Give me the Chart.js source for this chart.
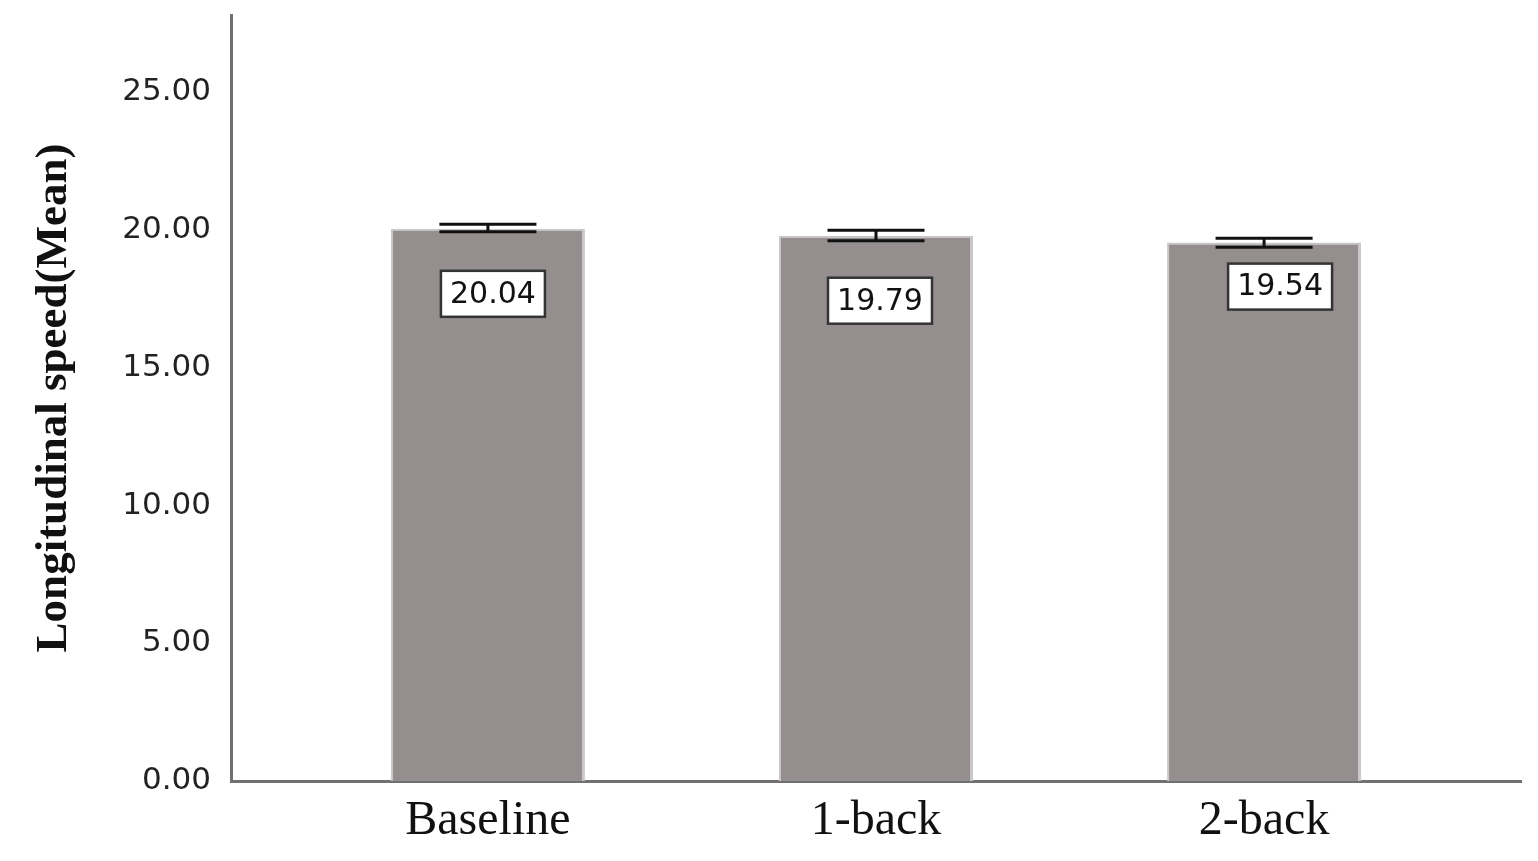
<!DOCTYPE html>
<html>
<head>
<meta charset="utf-8">
<script src="https://cdn.jsdelivr.net/npm/chart.js@4/dist/chart.umd.min.js"></script>
<style>
	html, body { margin: 0; padding: 0; background: #fff; }
	#wrap { width: 1538px; height: 861px; }
</style>
</head>
<body>
<div id="wrap"><canvas id="speedplot"></canvas></div>
<script>
// Data
const conditions = ['Baseline', '1-back', '2-back'];
const conditionPos = [1, 2, 3];
const meanSpeed = [20.04, 19.79, 19.54];
const ciLow = [19.93, 19.61, 19.37];
const ciHigh = [20.21, 19.99, 19.70];
const yTicks = [0, 5, 10, 15, 20, 25];

const barColor = '#948f8e';
const axisColor = '#707070';
// Label box shifts (px) relative to bar centre / bar top, as placed in the original
const labelShift = [[5, 65], [4, 65], [16, 44]];

// Error bars and boxed value labels
const overlayPlugin = {
	id: 'overlay',
	afterDatasetsDraw(chart) {
		const ctx = chart.ctx;
		const yScale = chart.scales.y;
		const meta = chart.getDatasetMeta(0);
		ctx.save();
		meta.data.forEach(function (bar, i) {
			const x = bar.x;
			const capHalf = bar.width / 4;
			const yHi = yScale.getPixelForValue(ciHigh[i]);
			const yLo = yScale.getPixelForValue(ciLow[i]);
			ctx.strokeStyle = '#111';
			ctx.lineWidth = 3;
			ctx.beginPath();
			ctx.moveTo(x - capHalf, yHi); ctx.lineTo(x + capHalf, yHi);
			ctx.moveTo(x - capHalf, yLo); ctx.lineTo(x + capHalf, yLo);
			ctx.moveTo(x, yHi); ctx.lineTo(x, yLo);
			ctx.stroke();

			// value label
			const cx = x + labelShift[i][0];
			const cy = bar.y + labelShift[i][1];
			const w = 104, h = 46;
			ctx.fillStyle = '#fff';
			ctx.fillRect(cx - w / 2, cy - h / 2, w, h);
			ctx.strokeStyle = '#333';
			ctx.lineWidth = 2.5;
			ctx.strokeRect(cx - w / 2, cy - h / 2, w, h);
			ctx.fillStyle = '#111';
			ctx.font = '30px "DejaVu Sans"';
			ctx.textAlign = 'center';
			ctx.textBaseline = 'middle';
			ctx.fillText(meanSpeed[i].toFixed(2), cx, cy + 1);
		});
		ctx.restore();
	}
};

var speedplot = new Chart('speedplot', {
	type: 'bar',
	data: {
		datasets: [{
			data: conditionPos.map((p, i) => ({ x: p, y: meanSpeed[i] })),
			backgroundColor: barColor,
			borderColor: '#c9c7c7',
			borderWidth: { left: 2, right: 3, top: 2, bottom: 0 },
			borderSkipped: 'bottom',
			barPercentage: 0.5,
			categoryPercentage: 1
		}]
	},
	options: {
		responsive: true,
		maintainAspectRatio: false,
		animation: false,
		layout: { padding: { top: 15, right: 17, left: 0, bottom: 0 } },
		plugins: {
			legend: { display: false },
			tooltip: { enabled: false }
		},
		scales: {
			x: {
				type: 'linear',
				offset: false,
				min: 0.338,
				max: 3.662,
				afterBuildTicks: function (scale) {
					scale.ticks = conditionPos.map(v => ({ value: v }));
				},
				afterFit: function (scale) {
					scale.height = 80;
					scale.paddingLeft = 0;
					scale.paddingRight = 0;
				},
				ticks: {
					callback: function (v) { return conditions[conditionPos.indexOf(v)] || ''; },
					color: '#111',
					font: { family: '"Liberation Serif"', size: 48 },
					padding: 12,
					maxRotation: 0,
					autoSkip: false
				},
				grid: { display: false, drawTicks: false },
				border: { color: axisColor, width: 3 }
			},
			y: {
				min: 0,
				max: 27.8,
				afterBuildTicks: function (scale) {
					scale.ticks = yTicks.map(v => ({ value: v }));
				},
				afterFit: function (scale) {
					scale.width = 231;
					scale.paddingTop = 0;
					scale.paddingBottom = 0;
				},
				title: {
					display: true,
					text: 'Longitudinal speed(Mean)',
					color: '#111',
					font: { family: '"Liberation Serif"', size: 45, weight: 'bold' },
					padding: { top: 27, bottom: 0 }
				},
				ticks: {
					callback: function (v) { return v.toFixed(2); },
					color: '#222',
					font: { family: '"DejaVu Sans"', size: 31 },
					padding: 20
				},
				grid: { display: false, drawTicks: false },
				border: { color: axisColor, width: 3 }
			}
		}
	},
	plugins: [overlayPlugin]
});
</script>
</body>
</html>
